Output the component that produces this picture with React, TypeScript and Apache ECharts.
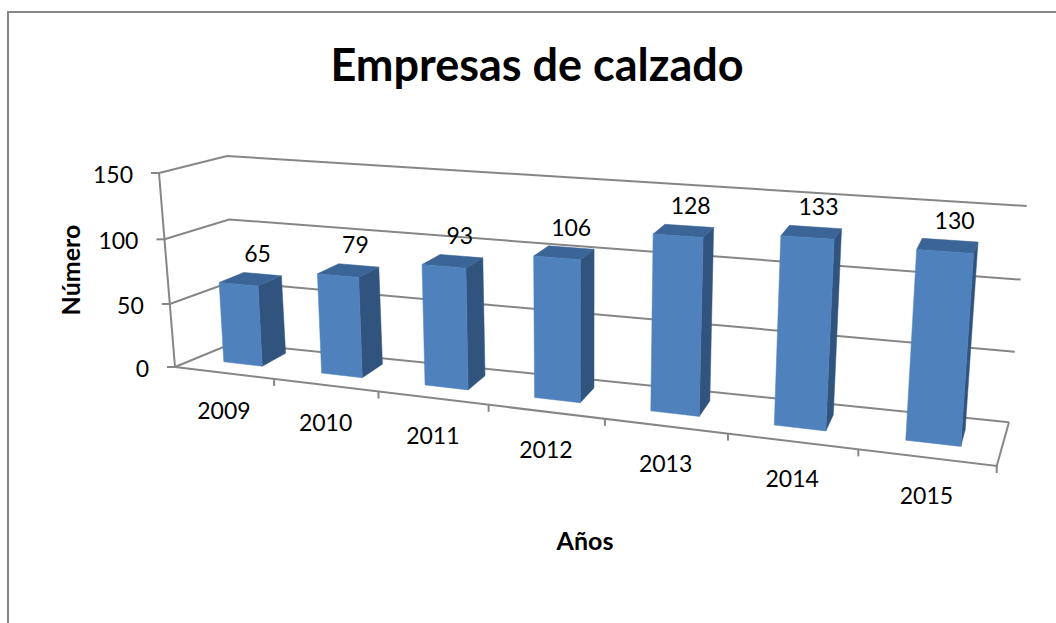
import React, { useEffect, useRef } from "react";
import * as echarts from "echarts";

const chartTitle = "Empresas de calzado";
const xAxisTitle = "Años";
const yAxisTitle = "Número";
const categories = ["2009", "2010", "2011", "2012", "2013", "2014", "2015"];
const values = [65, 79, 93, 106, 128, 133, 130];
const tickValues = [0, 50, 100, 150];

const FONT = "Lato, Carlito, Calibri, sans-serif";
const LINE = "#868686";
const GRID = { left: 100, top: 100, width: 700, height: 300 };
const BAR_RATIO = 0.4;

type Pt = [number, number];
type Quad = [Pt, Pt, Pt, Pt]; // (u,v): (0,0) (1,0) (1,1) (0,1)

// Perspective map of the unit square onto a quadrilateral
function homography(q: Quad) {
  const [[x0, y0], [x1, y1], [x2, y2], [x3, y3]] = q;
  const dx1 = x1 - x2, dx2 = x3 - x2, sx = x0 - x1 + x2 - x3;
  const dy1 = y1 - y2, dy2 = y3 - y2, sy = y0 - y1 + y2 - y3;
  const den = dx1 * dy2 - dx2 * dy1;
  const g = (sx * dy2 - dx2 * sy) / den;
  const h = (dx1 * sy - sx * dy1) / den;
  const a = x1 - x0 + g * x1, b = x3 - x0 + h * x3, c = x0;
  const d = y1 - y0 + g * y1, e = y3 - y0 + h * y3, f = y0;
  return (u: number, v: number): Pt => {
    const w = g * u + h * v + 1;
    return [(a * u + b * v + c) / w, (d * u + e * v + f) / w];
  };
}

// Box of the chart: front and back planes
const frameFront = homography([[175, 367], [996.7, 466], [1016, 233], [159, 173]]);
const frameBack = homography([[233, 343], [1009, 422.3], [1026.7, 206], [227, 156]]);
// Front and back faces of the bars
const barFront = homography([[195.5, 358.6], [1003, 451.3], [1019.7, 225.3], [183.7, 173.6]]);
const barBack = homography([[221, 346], [1006.5, 434.3], [1023.2, 214.5], [209.2, 167.3]]);

const toU = (px: number) => (px - GRID.left) / GRID.width;
const toV = (py: number) => (GRID.top + GRID.height - py) / GRID.height;

const line = (points: Pt[]) => ({
  type: "polyline",
  shape: { points },
  style: { stroke: LINE, lineWidth: 2, fill: "none" },
  silent: true,
});
const face = (points: Pt[], fill: string) => ({
  type: "polygon",
  shape: { points },
  style: { fill, stroke: fill, lineWidth: 0.5 },
  silent: true,
});
const label = (text: string, x: number, y: number, align = "center") => ({
  type: "text",
  silent: true,
  style: {
    text,
    x,
    y,
    align,
    verticalAlign: "middle",
    fill: "#000",
    fontFamily: FONT,
    fontSize: 23,
  },
});

function renderFrameTick(_: any, api: any) {
  const value = api.value(1);
  const v = toV(api.coord([0, value])[1]);
  const fl = frameFront(0, v);
  const bl = frameBack(0, v);
  const br = frameBack(1, v);
  const children: any[] = [
    line([fl, bl, br]),
    line([fl, [fl[0] - 8, fl[1]]]),
    label(String(value), fl[0] - 26, fl[1] + 1, "right"),
  ];
  if (value === 0) {
    const fr = frameFront(1, 0);
    children.push(line([fl, fr, br]));
    const top = tickValues[tickValues.length - 1];
    const vt = toV(api.coord([0, top])[1]);
    children.push(line([frameFront(0, 0), frameFront(0, vt)]));
  }
  return { type: "group", children };
}

function renderCategoryTick(_: any, api: any) {
  const i = api.value(0);
  const c = api.coord([i, 0]);
  const half = api.size([1, 0])[0] / 2;
  const edge = frameFront(toU(c[0] + half), 0);
  const mid = frameFront(toU(c[0]), 0);
  return {
    type: "group",
    children: [
      line([edge, [edge[0], edge[1] + 7]]),
      label(categories[i], mid[0], mid[1] + 37),
    ],
  };
}

function renderBar(_: any, api: any) {
  const i = api.value(0);
  const value = api.value(1);
  const base = api.coord([i, 0]);
  const tip = api.coord([i, value]);
  const half = (api.size([1, 0])[0] * BAR_RATIO) / 2;
  const u0 = toU(base[0] - half);
  const u1 = toU(base[0] + half);
  const v = toV(tip[1]);
  const v0 = toV(base[1]);
  const fbl = barFront(u0, v0), fbr = barFront(u1, v0);
  const ftl = barFront(u0, v), ftr = barFront(u1, v);
  const bbr = barBack(u1, v0);
  const btl = barBack(u0, v), btr = barBack(u1, v);
  const cx = (ftl[0] + ftr[0] + btl[0] + btr[0]) / 4;
  const cy = (ftl[1] + ftr[1] + btl[1] + btr[1]) / 4;
  return {
    type: "group",
    children: [
      face([ftr, btr, bbr, fbr], "#31547F"),
      face([ftl, btl, btr, ftr], "#3B6596"),
      face([ftl, ftr, fbr, fbl], "#4F81BD"),
      label(String(value), cx + 7, cy - 26),
    ],
  };
}

export default function App() {
  const ref = useRef<HTMLDivElement>(null);
  useEffect(() => {
    const chart = echarts.init(ref.current!, null, { renderer: "svg" });
    chart.setOption({
      animation: false,
      backgroundColor: "#fff",
      title: {
        text: chartTitle,
        left: 532,
        top: 36,
        textAlign: "center",
        textStyle: { fontFamily: FONT, fontWeight: "bold", fontSize: 45, color: "#000" },
      },
      grid: GRID,
      xAxis: { type: "category", data: categories, show: false },
      yAxis: { type: "value", min: 0, max: 150, interval: 50, show: false },
      graphic: [
        {
          type: "polyline",
          shape: { points: [[8, 623], [8, 12], [1056, 12]] },
          style: { stroke: LINE, lineWidth: 2, fill: "none" },
          silent: true,
        },
        {
          type: "text",
          x: 585,
          y: 540,
          silent: true,
          style: {
            text: xAxisTitle,
            align: "center",
            verticalAlign: "middle",
            fill: "#000",
            fontFamily: FONT,
            fontWeight: "bold",
            fontSize: 25,
          },
        },
        {
          type: "text",
          x: 70,
          y: 270,
          rotation: Math.PI / 2,
          silent: true,
          style: {
            text: yAxisTitle,
            align: "center",
            verticalAlign: "middle",
            fill: "#000",
            fontFamily: FONT,
            fontWeight: "bold",
            fontSize: 25,
          },
        },
      ],
      series: [
        {
          type: "custom",
          renderItem: renderFrameTick,
          data: tickValues.map((t) => [0, t]),
          encode: { x: 0, y: 1 },
          clip: false,
          silent: true,
          z: 1,
        },
        {
          type: "custom",
          renderItem: renderCategoryTick,
          data: categories.map((_, i) => [i, 0]),
          encode: { x: 0, y: 1 },
          clip: false,
          silent: true,
          z: 2,
        },
        {
          type: "custom",
          renderItem: renderBar,
          data: values.map((val, i) => [i, val]),
          encode: { x: 0, y: 1 },
          clip: false,
          silent: true,
          z: 3,
        },
      ],
    });
    return () => chart.dispose();
  }, []);
  return (
    <div
      ref={ref}
      style={{ position: "absolute", left: 0, top: 0, width: 1056, height: 623 }}
    />
  );
}
